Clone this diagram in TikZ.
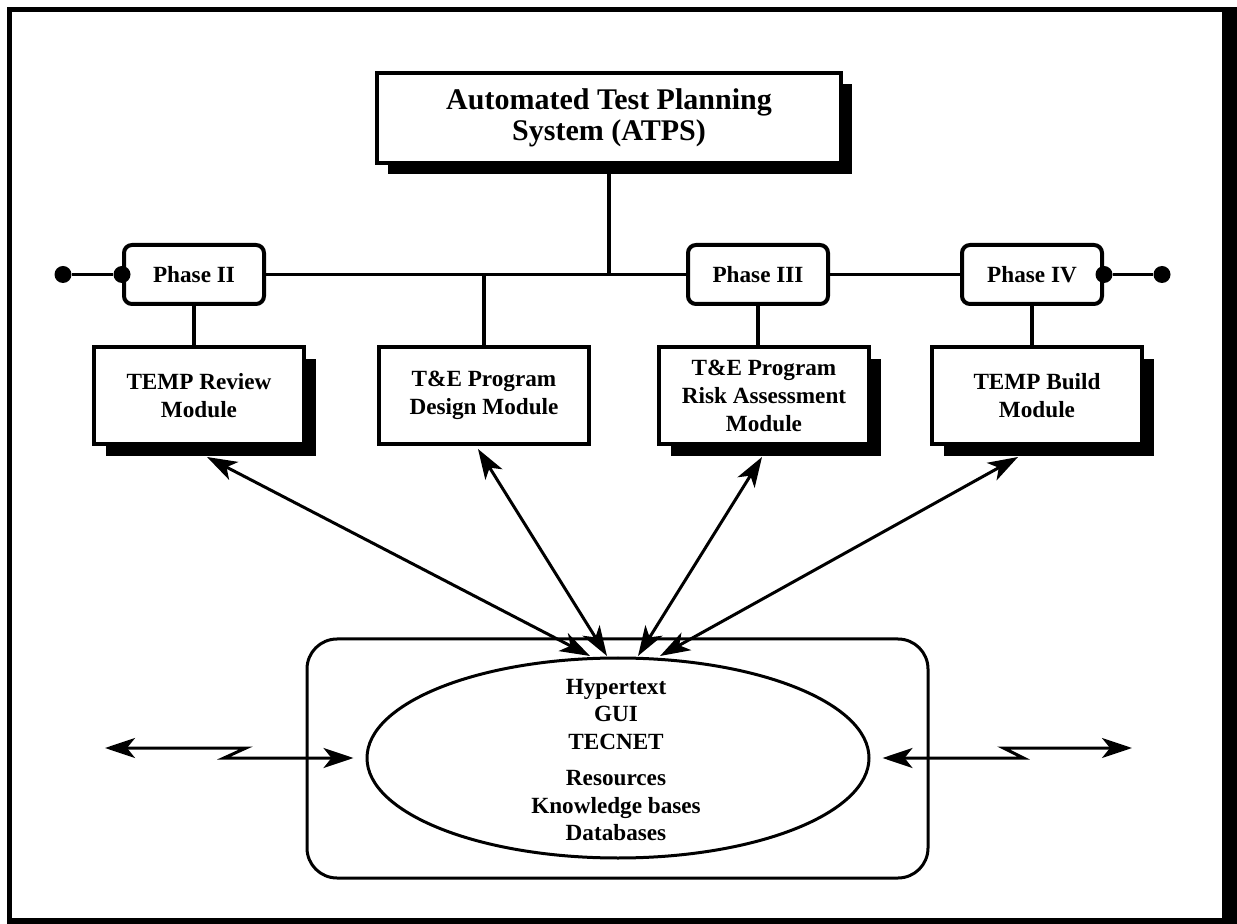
\documentclass[tikz,border=0pt]{standalone}
\usepackage{fontspec}
\setmainfont{Liberation Serif}
\usetikzlibrary{positioning,calc,shapes.geometric,shadows,arrows.meta}
\tikzset{blackshadow/.style={drop shadow={shadow xshift=#1, shadow yshift=-#1, fill=black, opacity=1}}}
\tikzset{sysbox/.style={draw, line width=2pt, fill=white, align=center, font=\fontsize{15}{15.5}\selectfont\bfseries, minimum width=232pt, minimum height=45pt, blackshadow=5.5pt}}
\tikzset{phasebox/.style={draw, line width=2pt, rounded corners=4pt, fill=white, font=\fontsize{11.6}{14}\selectfont\bfseries, minimum width=70pt, minimum height=29.5pt}}
\tikzset{modbox/.style={draw, line width=2pt, fill=white, align=center, font=\fontsize{11.6}{14}\selectfont\bfseries, minimum width=105pt, minimum height=48.5pt}}
\tikzset{dot/.style={circle, fill=black, inner sep=0pt, minimum size=8.5pt}}
\tikzset{link/.style={draw, line width=1.6pt}}
\tikzset{arr/.style={draw, line width=1.5pt, {Stealth[length=15pt,width=10pt,inset=4pt]}-{Stealth[length=15pt,width=10pt,inset=4pt]}}}

\begin{document}
\begin{tikzpicture}[x=0.5pt, y=-0.5pt]
	\useasboundingbox (0,0) rectangle (1237,924);
	% frame
	\fill (7,7) rectangle (1237,924);
	\fill[white] (12,12) rectangle (1222,918);
	%
	\node[sysbox] (title) at (609,118) {Automated Test Planning\\System (ATPS)};
	%
	\node[phasebox] (phase2) at (194,274.5) {Phase II};
	\node[phasebox] (phase3) at (758,274.5) {Phase III};
	\node[phasebox] (phase4) at (1032,274.5) {Phase IV};
	\node[dot] (ldot) at (63,274.5) {};
	\node[dot] (rdot) at (1162,274.5) {};
	\node[dot] (p2dot) at (phase2.west) {};
	\node[dot] (p4dot) at (phase4.east) {};
	%
	\node[modbox, blackshadow=6pt] (review) at (199,395.5) {TEMP Review\\Module};
	\node[modbox] (design) at (484,395.5) {T\&E Program\\Design Module};
	\node[modbox, blackshadow=6pt] (risk) at (764,395.5) {T\&E Program\\Risk Assessment\\Module};
	\node[modbox, blackshadow=6pt] (build) at (1037,395.5) {TEMP Build\\Module};
	%
	\draw[link] (ldot) -- (p2dot);
	\draw[link] (phase2.east) -- (phase3.west);
	\draw[link] (phase3.east) -- (phase4.west);
	\draw[link] (p4dot) -- (rdot);
	\draw[link] (title.south) -- (title.south |- phase2.east);
	\draw[link] (phase2.south) -- (phase2.south |- review.north);
	\draw[link] (design.north |- phase2.east) -- (design.north);
	\draw[link] (phase3.south) -- (phase3.south |- risk.north);
	\draw[link] (phase4.south) -- (phase4.south |- build.north);
	%
	\node[draw, line width=1.5pt, rounded corners=15pt, minimum width=310.5pt, minimum height=119.5pt] (hub) at (617.5,758.5) {};
	\node[ellipse, draw, line width=1.5pt, minimum width=251pt, minimum height=100pt, inner sep=0pt] (db) at (618,758) {};
	\node[align=center, font=\fontsize{11.6}{13.7}\selectfont\bfseries] (dbtext) at (616,760) {Hypertext\\GUI\\TECNET\\[4.5pt]Resources\\Knowledge bases\\Databases};
	%
	\coordinate (rv) at (207,457);
	\coordinate (ds) at (478,449);
	\coordinate (rk) at (762,457);
	\coordinate (bd) at (1018,457);
	\coordinate (e1) at (590,656);
	\coordinate (e2) at (607,656);
	\coordinate (e3) at (638,656);
	\coordinate (e4) at (660,656);
	\draw[arr] (rv) -- (e1);
	\draw[arr] (ds) -- (e2);
	\draw[arr] (rk) -- (e3);
	\draw[arr] (bd) -- (e4);
	%
	\coordinate (lfar) at (105,748);
	\coordinate (rfar) at (1132,748);
	\draw[arr, shorten >=6pt] (lfar) -- ++(141,0) -- ++(-22,10) -- (db.west);
	\draw[arr, shorten <=6pt] (db.east) -- ++(153,0) -- ++(-20,-10) -- (rfar);
\end{tikzpicture}
\end{document}
